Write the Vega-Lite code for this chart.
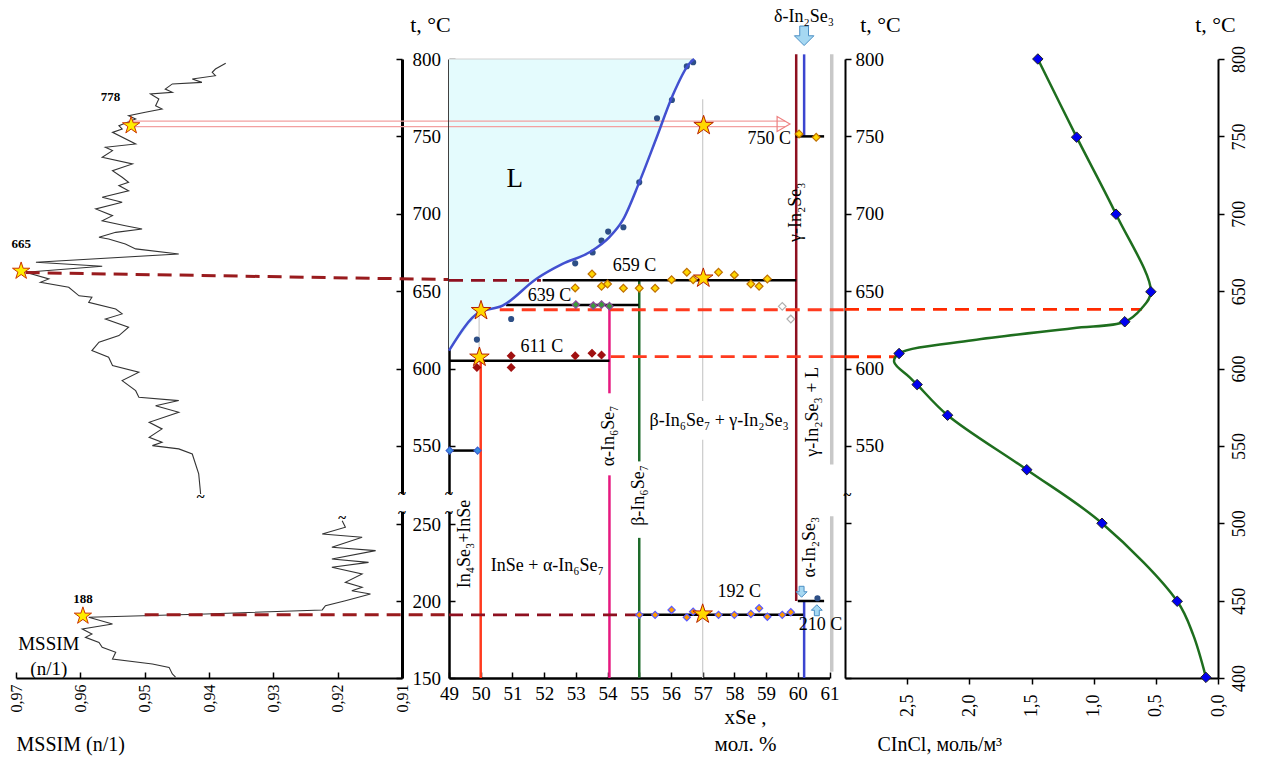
{
"$schema": "https://vega.github.io/schema/vega-lite/v6.json",
"padding": {"left": 8, "top": 8, "right": 5, "bottom": 5},
"background": "white",
"config": {"font": "Liberation Serif", "view": {"stroke": null}, "axis": {"grid": false, "domainColor": "black", "tickColor": "black", "labelColor": "black", "titleColor": "black", "labelFont": "Liberation Serif", "titleFont": "Liberation Serif", "labelFontSize": 18, "titleFontSize": 22, "titleFontWeight": "normal", "labelFlush": false, "labelOverlap": false, "labelBound": false, "tickWidth": 1.5, "zindex": 0}, "axisX": {"labelOverlap": false}, "text": {"font": "Liberation Serif", "color": "black"}},
"bounds": "flush",
"spacing": 15,
"hconcat": [
{"width": 417.5, "height": 619,
 "layer": [
  {"data": {"values": [
   {"seg":"a","m":0.9374,"t":797.2},{"seg":"a","m":0.9390,"t":793.5},{"seg":"a","m":0.9395,"t":791.4},{"seg":"a","m":0.9390,"t":789.2},{"seg":"a","m":0.9426,"t":787.1},{"seg":"a","m":0.9411,"t":784.9},{"seg":"a","m":0.9457,"t":783.9},{"seg":"a","m":0.9468,"t":780.6},{"seg":"a","m":0.9457,"t":778.5},{"seg":"a","m":0.9491,"t":777.4},{"seg":"a","m":0.9478,"t":774.2},{"seg":"a","m":0.9483,"t":769.8},{"seg":"a","m":0.9473,"t":767.7},{"seg":"a","m":0.9499,"t":765.6},{"seg":"a","m":0.9525,"t":763.4},{"seg":"a","m":0.9514,"t":761.2},{"seg":"a","m":0.9540,"t":756.9},{"seg":"a","m":0.9535,"t":754.8},{"seg":"a","m":0.9550,"t":752.6},{"seg":"a","m":0.9514,"t":745.1},{"seg":"a","m":0.9561,"t":743.0},{"seg":"a","m":0.9550,"t":740.8},{"seg":"a","m":0.9566,"t":736.5},{"seg":"a","m":0.9519,"t":732.2},{"seg":"a","m":0.9550,"t":727.8},{"seg":"a","m":0.9535,"t":723.6},{"seg":"a","m":0.9525,"t":720.3},{"seg":"a","m":0.9540,"t":718.2},{"seg":"a","m":0.9525,"t":714.9},{"seg":"a","m":0.9566,"t":710.7},{"seg":"a","m":0.9535,"t":707.4},{"seg":"a","m":0.9576,"t":703.1},{"seg":"a","m":0.9550,"t":698.8},{"seg":"a","m":0.9566,"t":695.5},{"seg":"a","m":0.9530,"t":692.3},{"seg":"a","m":0.9504,"t":690.2},{"seg":"a","m":0.9545,"t":688.0},{"seg":"a","m":0.9571,"t":684.8},{"seg":"a","m":0.9556,"t":683.7},{"seg":"a","m":0.9530,"t":680.5},{"seg":"a","m":0.9514,"t":677.3},{"seg":"a","m":0.9447,"t":674.0},{"seg":"a","m":0.9669,"t":668.7},{"seg":"a","m":0.9566,"t":666.1},{"seg":"a","m":0.9685,"t":662.2},{"seg":"a","m":0.9649,"t":657.9},{"seg":"a","m":0.9662,"t":655.7},{"seg":"a","m":0.9618,"t":652.5},{"seg":"a","m":0.9602,"t":647.0},{"seg":"a","m":0.9582,"t":646.1},{"seg":"a","m":0.9587,"t":642.8},{"seg":"a","m":0.9545,"t":638.5},{"seg":"a","m":0.9535,"t":635.3},{"seg":"a","m":0.9561,"t":632.0},{"seg":"a","m":0.9525,"t":626.7},{"seg":"a","m":0.9540,"t":621.3},{"seg":"a","m":0.9571,"t":617.0},{"seg":"a","m":0.9582,"t":611.6},{"seg":"a","m":0.9556,"t":607.3},{"seg":"a","m":0.9550,"t":601.9},{"seg":"a","m":0.9509,"t":597.6},{"seg":"a","m":0.9535,"t":592.2},{"seg":"a","m":0.9514,"t":585.7},{"seg":"a","m":0.9509,"t":581.5},{"seg":"a","m":0.9447,"t":579.3},{"seg":"a","m":0.9483,"t":576.0},{"seg":"a","m":0.9447,"t":571.8},{"seg":"a","m":0.9493,"t":565.3},{"seg":"a","m":0.9473,"t":561.0},{"seg":"a","m":0.9493,"t":555.6},{"seg":"a","m":0.9473,"t":552.4},{"seg":"a","m":0.9488,"t":550.2},{"seg":"a","m":0.9447,"t":548.1},{"seg":"a","m":0.9426,"t":544.8},{"seg":"a","m":0.9416,"t":531.9},{"seg":"a","m":0.9413,"t":518.9},
   {"seg":"b","m":0.9193,"t":252.1},{"seg":"b","m":0.9188,"t":247.9},{"seg":"b","m":0.9224,"t":243.5},{"seg":"b","m":0.9162,"t":241.4},{"seg":"b","m":0.9209,"t":234.9},{"seg":"b","m":0.9141,"t":232.7},{"seg":"b","m":0.9209,"t":227.3},{"seg":"b","m":0.9152,"t":225.1},{"seg":"b","m":0.9209,"t":221.9},{"seg":"b","m":0.9162,"t":217.5},{"seg":"b","m":0.9188,"t":212.1},{"seg":"b","m":0.9162,"t":208.9},{"seg":"b","m":0.9178,"t":206.7},{"seg":"b","m":0.9149,"t":204.5},{"seg":"b","m":0.9188,"t":200.2},{"seg":"b","m":0.9219,"t":196.9},{"seg":"b","m":0.9224,"t":194.2},{"seg":"b","m":0.9405,"t":191.6},{"seg":"b","m":0.9587,"t":189.4},{"seg":"b","m":0.9550,"t":185.1},{"seg":"b","m":0.9597,"t":181.8},{"seg":"b","m":0.9582,"t":178.6},{"seg":"b","m":0.9592,"t":176.4},{"seg":"b","m":0.9571,"t":173.1},{"seg":"b","m":0.9566,"t":169.9},{"seg":"b","m":0.9545,"t":166.7},{"seg":"b","m":0.9550,"t":162.3},{"seg":"b","m":0.9488,"t":159.1},{"seg":"b","m":0.9462,"t":156.9},{"seg":"b","m":0.9457,"t":152.6},{"seg":"b","m":0.9452,"t":150.5}
  ]},
   "mark": {"type": "line", "color": "#333333", "strokeWidth": 1.1},
   "encoding": {
    "x": {"field": "m", "type": "quantitative", "title": "MSSIM (n/1)", "scale": {"domain": [0.91, 0.97], "range": [386, 0], "nice": false, "zero": false},
      "axis": {"values": [0.91,0.92,0.93,0.94,0.95,0.96,0.97], "labelExpr": "replace(format(datum.value,'.2f'),'.',',')", "labelAngle": -90, "labelOverlap": false, "tickSize": -6, "labelPadding": 12, "domainWidth": 2, "labelFontSize": 16, "titleX": 0, "titleY": 66, "titleAlign": "left", "titleAnchor": "start", "titleBaseline": "middle", "titleFontSize": 20}},
    "y": {"field": "t", "type": "quantitative", "title": "t, °C", "scale": {"domain": [150, 260, 517, 800], "range": [619, 449.6, 438, 0], "nice": false, "zero": false},
      "axis": {"orient": "right", "offset": -31.5, "values": [150,200,250,550,600,650,700,750,800], "labelOverlap": false, "labelFontSize": 19, "tickSize": -6, "labelPadding": 16, "labelAlign": "left", "domainWidth": 3, "titleAngle": 0, "titleX": 28, "titleY": -35, "titleAlign": "center", "titleBaseline": "middle"}},
    "detail": {"field": "seg"},
    "order": {"field": "t", "type": "quantitative"}
   }},
  {"data": {"values": [{"m":0.91,"t":519,"t2":258}]},
   "mark": {"type": "rule", "color": "white", "strokeWidth": 6},
   "encoding": {"x": {"field": "m", "type": "quantitative"}, "y": {"field": "t", "type": "quantitative"}, "y2": {"field": "t2"}}},
  {"data": {"values": [{"m":0.9525,"m2":0.9028,"t":759.8},{"m":0.9525,"m2":0.9028,"t":756.3}]},
   "mark": {"type": "rule", "color": "#F2A0A0", "strokeWidth": 1.2},
   "encoding": {"x": {"field": "m", "type": "quantitative"}, "x2": {"field": "m2"}, "y": {"field": "t", "type": "quantitative"}}},
  {"data": {"values": [{"m":0.9685,"t":662,"m2":0.9028,"t2":657.5},{"m":0.95,"t":191,"m2":0.9028,"t2":191}]},
   "mark": {"type": "rule", "color": "#991B1E", "strokeWidth": 3, "strokeDash": [14, 8]},
   "encoding": {"x": {"field": "m", "type": "quantitative"}, "x2": {"field": "m2"}, "y": {"field": "t", "type": "quantitative"}, "y2": {"field": "t2"}}},
  {"data": {"values": [{"m":0.9521,"t":757},{"m":0.9692,"t":663},{"m":0.9596,"t":190.3}]},
   "mark": {"type": "point", "shape": "M0,-1L0.2245,-0.309L0.9511,-0.309L0.3633,0.118L0.5878,0.809L0,0.382L-0.5878,0.809L-0.3633,0.118L-0.9511,-0.309L-0.2245,-0.309Z", "size": 330, "filled": true, "fill": "#FFEE00", "stroke": "#CC3300", "strokeWidth": 1, "opacity": 1},
   "encoding": {"x": {"field": "m", "type": "quantitative"}, "y": {"field": "t", "type": "quantitative"}}},
  {"data": {"values": [{"m":0.9553,"t":775.5,"s":"778"},{"m":0.9692,"t":680.5,"s":"665"},{"m":0.9596,"t":201.3,"s":"188"}]},
   "mark": {"type": "text", "fontSize": 13, "fontWeight": "bold"},
   "encoding": {"x": {"field": "m", "type": "quantitative"}, "y": {"field": "t", "type": "quantitative"}, "text": {"field": "s"}}},
  {"data": {"values": [{"m":0.9649,"t":172.4,"s":"MSSIM\n(n/1)"}]},
   "mark": {"type": "text", "fontSize": 19, "lineBreak": "\n", "lineHeight": 25},
   "encoding": {"x": {"field": "m", "type": "quantitative"}, "y": {"field": "t", "type": "quantitative"}, "text": {"field": "s"}}},
  {"data": {"values": [{"m":0.91,"t":519,"s":"~"},{"m":0.91,"t":257,"s":"~"},{"m":0.9413,"t":517,"s":"~"},{"m":0.9193,"t":254,"s":"~"}]},
   "mark": {"type": "text", "fontSize": 15, "fontWeight": "bold"},
   "encoding": {"x": {"field": "m", "type": "quantitative"}, "y": {"field": "t", "type": "quantitative"}, "text": {"field": "s"}}}
 ]},
{"width": 380.5, "height": 619,
 "encoding": {
  "x": {"field": "x", "type": "quantitative", "title": ["xSe ,", "мол. %"], "scale": {"domain": [49, 61], "nice": false, "zero": false},
    "axis": {"values": [49,50,51,52,53,54,55,56,57,58,59,60,61], "labelOverlap": false, "labelSeparation": 0, "labelFontSize": 19, "tickSize": -6, "labelPadding": 12, "domainWidth": 2.5, "titleX": 296, "titleY": 28, "titleBaseline": "top", "titleAlign": "center", "titleFontSize": 21, "titleLineHeight": 27}},
  "y": {"field": "t", "type": "quantitative", "scale": {"domain": [150, 260, 517, 800], "range": [619, 449.6, 438, 0], "nice": false, "zero": false},
    "axis": {"values": [150,200,250,550,600,650,700,750,800], "labels": false, "tickSize": -6, "domainWidth": 2.5, "title": null}}
 },
 "layer": [
  {"data": {"values": [{"x":49.0,"t":611.6},{"x":49.96,"t":636.4},{"x":50.69,"t":640.6},{"x":51.75,"t":657.9},{"x":52.58,"t":667.6},{"x":53.43,"t":675.1},{"x":54.06,"t":684.9},{"x":54.47,"t":695.5},{"x":55.0,"t":720.3},{"x":55.53,"t":748.3},{"x":56.05,"t":776.3},{"x":56.57,"t":796.8},{"x":56.73,"t":800}]},
   "mark": {"type": "area", "orient": "horizontal", "color": "#E4FBFD"},
   "encoding": {"x2": {"datum": 49}}},
  {"data": {"values": [{"x":49,"t":519,"t2":258}]},
   "mark": {"type": "rule", "color": "white", "strokeWidth": 6},
   "encoding": {"y2": {"field": "t2"}}},
  {"data": {"values": [{"x":49,"x2":56.73,"t":800}]},
   "mark": {"type": "rule", "color": "#D0D0D0", "strokeWidth": 1},
   "encoding": {"x2": {"field": "x2"}}},
  {"data": {"values": [{"x":49.95,"t":637,"t2":607},{"x":57.0,"t":774,"t2":579},{"x":57.0,"t":554,"t2":150}]},
   "mark": {"type": "rule", "color": "#CFCFCF", "strokeWidth": 1.3},
   "encoding": {"y2": {"field": "t2"}}},
  {"data": {"values": [{"x":61.07,"t":803,"t2":538},{"x":61.07,"t":255,"t2":154}]},
   "mark": {"type": "rule", "color": "#C8C8C8", "strokeWidth": 3.5},
   "encoding": {"y2": {"field": "t2"}}},
  {"data": {"values": [{"x":49,"x2":59.6,"t":759.8},{"x":49,"x2":59.6,"t":756.3}]},
   "mark": {"type": "rule", "color": "#F2A0A0", "strokeWidth": 1.2},
   "encoding": {"x2": {"field": "x2"}}},
  {"data": {"values": [{"x":59.55,"t":758}]},
   "mark": {"type": "point", "shape": "triangle-right", "size": 220, "filled": false, "stroke": "#EE8080", "strokeWidth": 1.2, "opacity": 1}},
  {"data": {"values": [{"x":50.0,"t":605,"t2":150,"k":"a"},{"x":54.06,"t":639,"t2":584,"k":"b"},{"x":54.06,"t":531,"t2":150,"k":"b"},{"x":55.0,"t":657,"t2":540,"k":"c"},{"x":55.0,"t":241,"t2":150,"k":"c"},{"x":59.95,"t":803,"t2":200,"k":"d"},{"x":60.2,"t":803,"t2":750,"k":"e"},{"x":60.2,"t":200,"t2":150,"k":"e"}]},
   "mark": {"type": "rule", "strokeWidth": 2.5},
   "encoding": {"y2": {"field": "t2"},
    "color": {"field": "k", "type": "nominal", "legend": null, "scale": {"domain": ["a","b","c","d","e"], "range": ["#FF3B1F","#E6197F","#1D6B2A","#8E1020","#3B45D0"]}}}},
  {"data": {"values": [{"x":49.0,"x2":51.9,"t":657,"k":"d"},{"x":49.0,"x2":55.0,"t":191,"k":"d"},{"x":50.6,"x2":61.47,"t":638,"k":"r"},{"x":54.1,"x2":61.47,"t":607.7,"k":"r"}]},
   "mark": {"type": "rule", "strokeWidth": 2.8, "strokeDash": [14, 8]},
   "encoding": {"x2": {"field": "x2"},
    "color": {"field": "k", "type": "nominal", "legend": null, "scale": {"domain": ["d","r"], "range": ["#991B1E","#FF2A00"]}}}},
  {"data": {"values": [{"x":51.95,"x2":59.95,"t":657},{"x":50.8,"x2":54.98,"t":641},{"x":49.0,"x2":54.06,"t":605},{"x":49.0,"x2":49.9,"t":547},{"x":59.93,"x2":60.83,"t":750},{"x":55.0,"x2":60.17,"t":191},{"x":60.0,"x2":60.83,"t":200}]},
   "mark": {"type": "rule", "color": "black", "strokeWidth": 2.5},
   "encoding": {"x2": {"field": "x2"}}},
  {"data": {"values": [{"x":49.88,"t":618.7},{"x":50.96,"t":632},{"x":52.98,"t":668},{"x":53.53,"t":675},{"x":53.81,"t":682.6},{"x":54.02,"t":688.5},{"x":54.5,"t":691.3},{"x":55.0,"t":720.3},{"x":55.56,"t":761.7},{"x":56.03,"t":773.5},{"x":56.5,"t":795.3},{"x":56.7,"t":797.9},{"x":60.62,"t":201.8}]},
   "mark": {"type": "circle", "color": "#2E4F86", "size": 38, "opacity": 1}},
  {"data": {"values": [{"x":49.0,"t":611.6},{"x":49.96,"t":636.4},{"x":50.69,"t":640.6},{"x":51.75,"t":657.9},{"x":52.58,"t":667.6},{"x":53.43,"t":675.1},{"x":54.06,"t":684.9},{"x":54.47,"t":695.5},{"x":55.0,"t":720.3},{"x":55.53,"t":748.3},{"x":56.05,"t":776.3},{"x":56.57,"t":796.8},{"x":56.73,"t":800}]},
   "mark": {"type": "line", "color": "#4150D0", "strokeWidth": 2.5, "interpolate": "monotone"}},
  {"data": {"values": [
    {"x":53.51,"t":661.1,"g":"y"},{"x":52.98,"t":652.1,"g":"y"},{"x":53.81,"t":653.2,"g":"y"},{"x":54.0,"t":654.6,"g":"y"},{"x":54.5,"t":651.9,"g":"y"},{"x":55.0,"t":651.9,"g":"y"},{"x":55.5,"t":651.9,"g":"y"},{"x":56.02,"t":657.4,"g":"y"},{"x":56.5,"t":662.2,"g":"y"},{"x":56.7,"t":657.4,"g":"y"},{"x":57.5,"t":662.2,"g":"y"},{"x":58.0,"t":660.5,"g":"y"},{"x":58.52,"t":654.6,"g":"y"},{"x":58.78,"t":653.2,"g":"y"},{"x":59.04,"t":657.9,"g":"y"},
    {"x":60.04,"t":751.6,"g":"y"},{"x":60.58,"t":749.4,"g":"y"},
    {"x":59.51,"t":640.2,"g":"gr"},{"x":59.78,"t":632,"g":"gr"},
    {"x":53.0,"t":641.3,"g":"g"},{"x":53.55,"t":640.6,"g":"g"},{"x":53.81,"t":641.3,"g":"g"},{"x":54.06,"t":640.3,"g":"g"},
    {"x":50.96,"t":608.2,"g":"dr"},{"x":50.96,"t":600.7,"g":"dr"},{"x":52.98,"t":608.2,"g":"dr"},{"x":53.51,"t":609.9,"g":"dr"},{"x":53.81,"t":608.7,"g":"dr"},{"x":49.88,"t":600.7,"g":"dr"},
    {"x":55.0,"t":191,"g":"o"},{"x":55.5,"t":191,"g":"o"},{"x":56.02,"t":194.2,"g":"o"},{"x":56.5,"t":189.4,"g":"o"},{"x":56.7,"t":193.1,"g":"o"},{"x":57.5,"t":191,"g":"o"},{"x":58.0,"t":191,"g":"o"},{"x":58.52,"t":191.6,"g":"o"},{"x":58.78,"t":195.3,"g":"o"},{"x":59.04,"t":189.8,"g":"o"},{"x":59.51,"t":191,"g":"o"},{"x":59.78,"t":192.7,"g":"o"},
    {"x":49.02,"t":547,"g":"b"},{"x":49.9,"t":547,"g":"b"}
   ]},
   "mark": {"type": "point", "shape": "diamond", "filled": true, "strokeWidth": 1.2, "opacity": 1},
   "encoding": {
    "fill": {"field": "g", "type": "nominal", "legend": null, "scale": {"domain": ["y","gr","g","dr","o","b"], "range": ["#FFD700","#FFFFFF","#3A9A3A","#A01010","#FF9A00","#3A8FE0"]}},
    "stroke": {"field": "g", "type": "nominal", "legend": null, "scale": {"domain": ["y","gr","g","dr","o","b"], "range": ["#C07000","#B0B0B0","#8A4A9A","#A01010","#5A5AFF","#3A5FD0"]}},
    "size": {"field": "g", "type": "nominal", "legend": null, "scale": {"domain": ["y","gr","g","dr","o","b"], "range": [60,50,30,45,55,30]}}}},
  {"data": {"values": [{"x":57.03,"t":757,"k":"y"},{"x":57.02,"t":658.4,"k":"y"},{"x":57.0,"t":191.5,"k":"y"},{"x":50.01,"t":637.4,"k":"r"},{"x":49.96,"t":607.3,"k":"r"}]},
   "mark": {"type": "point", "shape": "M0,-1L0.2245,-0.309L0.9511,-0.309L0.3633,0.118L0.5878,0.809L0,0.382L-0.5878,0.809L-0.3633,0.118L-0.9511,-0.309L-0.2245,-0.309Z", "size": 420, "filled": true, "stroke": "#B82000", "strokeWidth": 1, "opacity": 1},
   "encoding": {
    "fill": {"field": "k", "type": "nominal", "legend": null, "scale": {"domain": ["y","r"], "range": ["#FFEE00","#F02020"]}}}},
  {"data": {"values": [{"x":60.2,"t":815}]},
   "mark": {"type": "point", "shape": "M-0.45,-1L0.45,-1L0.45,0L1,0L0,1L-1,0L-0.45,0Z", "size": 380, "filled": true, "fill": "#A6D8F2", "stroke": "#4A8EC4", "strokeWidth": 1, "opacity": 1}},
  {"data": {"values": [{"x":60.12,"t":206}]},
   "mark": {"type": "point", "shape": "M-0.45,-1L0.45,-1L0.45,0L1,0L0,1L-1,0L-0.45,0Z", "size": 120, "filled": true, "fill": "#A6D8F2", "stroke": "#4A8EC4", "strokeWidth": 1, "opacity": 1}},
  {"data": {"values": [{"x":60.6,"t":194}]},
   "mark": {"type": "point", "shape": "M-0.45,1L0.45,1L0.45,0L1,0L0,-1L-1,0L-0.45,0Z", "size": 120, "filled": true, "fill": "#A6D8F2", "stroke": "#4A8EC4", "strokeWidth": 1, "opacity": 1}},
  {"data": {"values": [{"x":54.85,"t":666.5,"s":"659 C"},{"x":52.17,"t":647,"s":"639 C"},{"x":51.93,"t":613.6,"s":"611 C"},{"x":58.15,"t":205.6,"s":"192 C"},{"x":60.72,"t":184.4,"s":"210 C"},{"x":60.2,"t":827,"s":"δ-In₂Se₃"},{"x":57.52,"t":566.4,"s":"β-In₆Se₇ + γ-In₂Se₃"},{"x":52.1,"t":222.7,"s":"InSe + α-In₆Se₇"}]},
   "mark": {"type": "text", "fontSize": 18},
   "encoding": {"text": {"field": "s"}}},
  {"data": {"values": [{"x":59.79,"t":748,"s":"750 C"}]},
   "mark": {"type": "text", "fontSize": 18, "align": "right"},
   "encoding": {"text": {"field": "s"}}},
  {"data": {"values": [{"x":51.07,"t":722.5,"s":"L"}]},
   "mark": {"type": "text", "fontSize": 27},
   "encoding": {"text": {"field": "s"}}},
  {"data": {"values": [{"x":59.95,"t":701,"s":"γ-In₂Se₃"},{"x":60.48,"t":572,"s":"γ-In₂Se₃ + L"},{"x":54.06,"t":556.5,"s":"α-In₆Se₇"},{"x":55.0,"t":518,"s":"β-In₆Se₇"},{"x":49.52,"t":237,"s":"In₄Se₃+InSe"},{"x":60.4,"t":235,"s":"α-In₂Se₃"}]},
   "mark": {"type": "text", "fontSize": 18, "angle": 270},
   "encoding": {"text": {"field": "s"}}},
  {"data": {"values": [{"x":49,"t":519,"s":"~"},{"x":49,"t":257,"s":"~"}]},
   "mark": {"type": "text", "fontSize": 15, "fontWeight": "bold"},
   "encoding": {"text": {"field": "s"}}}
 ]},
{"width": 373, "height": 619,
 "resolve": {"axis": {"y": "independent"}},
 "layer": [
  {"data": {"values": [{"c":3.0,"c2":0.613,"t":638.2},{"c":3.0,"c2":2.59,"t":607.6}]},
   "mark": {"type": "rule", "color": "#FF2A00", "strokeWidth": 2.8, "strokeDash": [14, 8]},
   "encoding": {
    "x": {"field": "c", "type": "quantitative", "title": "CInCl, моль/м³", "scale": {"domain": [0, 3], "reverse": true, "nice": false, "zero": false},
      "axis": {"values": [0,0.5,1,1.5,2,2.5], "labelExpr": "replace(format(datum.value,'.1f'),'.',',')", "labelAngle": -90, "labelOverlap": false, "labelFontSize": 18, "tickSize": 6, "labelPadding": 10, "domainWidth": 2, "titleX": 32, "titleY": 66, "titleAlign": "left", "titleAnchor": "start", "titleBaseline": "middle", "titleFontSize": 20}},
    "x2": {"field": "c2"},
    "y": {"field": "t", "type": "quantitative", "title": "t, °C", "scale": {"domain": [400, 800], "nice": false, "zero": false},
      "axis": {"orient": "left", "values": [400,450,500,550,600,650,700,750,800], "labelOverlap": false, "labelFontSize": 19, "labelExpr": "datum.value >= 550 ? datum.label : ''", "tickSize": -6, "labelPadding": -4, "labelAlign": "left", "domainWidth": 2, "titleAngle": 0, "titleX": 35, "titleY": -35, "titleAlign": "center", "titleBaseline": "middle"}}
   }},
  {"data": {"values": [{"c":0.097,"t":400.4},{"c":0.2,"t":428},{"c":0.328,"t":449.6},{"c":0.933,"t":500},{"c":1.538,"t":534.6},{"c":2.175,"t":569.8},{"c":2.42,"t":589.6},{"c":2.484,"t":594.6},{"c":2.605,"t":604.3},{"c":2.565,"t":609.7},{"c":1.973,"t":618.3},{"c":1.167,"t":626},{"c":0.75,"t":630.2},{"c":0.615,"t":638.8},{"c":0.54,"t":649.6},{"c":0.82,"t":699.7},{"c":1.137,"t":749.5},{"c":1.449,"t":800}]},
   "mark": {"type": "line", "color": "#1E6E1E", "strokeWidth": 2.5, "interpolate": "catmull-rom"},
   "encoding": {"x": {"field": "c", "type": "quantitative"}, "y": {"field": "t", "type": "quantitative", "axis": null}, "order": {"field": "t", "type": "quantitative"}}},
  {"data": {"values": [{"c":0.097,"t":400.4},{"c":0.328,"t":449.6},{"c":0.933,"t":500},{"c":1.538,"t":534.6},{"c":2.175,"t":569.8},{"c":2.42,"t":589.6},{"c":2.565,"t":609.7},{"c":0.75,"t":630.2},{"c":0.54,"t":649.6},{"c":0.82,"t":699.7},{"c":1.137,"t":749.5},{"c":1.449,"t":800}]},
   "mark": {"type": "point", "shape": "diamond", "filled": true, "fill": "#0000F0", "stroke": "#222222", "strokeWidth": 1, "size": 110, "opacity": 1},
   "encoding": {"x": {"field": "c", "type": "quantitative"},
    "y": {"field": "t", "type": "quantitative", "title": "t, °C", "axis": {"orient": "right", "values": [400,450,500,550,600,650,700,750,800], "labelOverlap": false, "labelFontSize": 18, "labelAngle": -90, "tickSize": 6, "labelPadding": 6, "domainWidth": 2, "titleAngle": 0, "titleX": -3, "titleY": -35, "titleAlign": "center", "titleBaseline": "middle"}}}},
  {"data": {"values": [{"c":2.98,"t":518,"s":"~"}]},
   "mark": {"type": "text", "fontSize": 15, "fontWeight": "bold"},
   "encoding": {"x": {"field": "c", "type": "quantitative"}, "y": {"field": "t", "type": "quantitative", "axis": null}, "text": {"field": "s"}}}
 ]}
]
}
